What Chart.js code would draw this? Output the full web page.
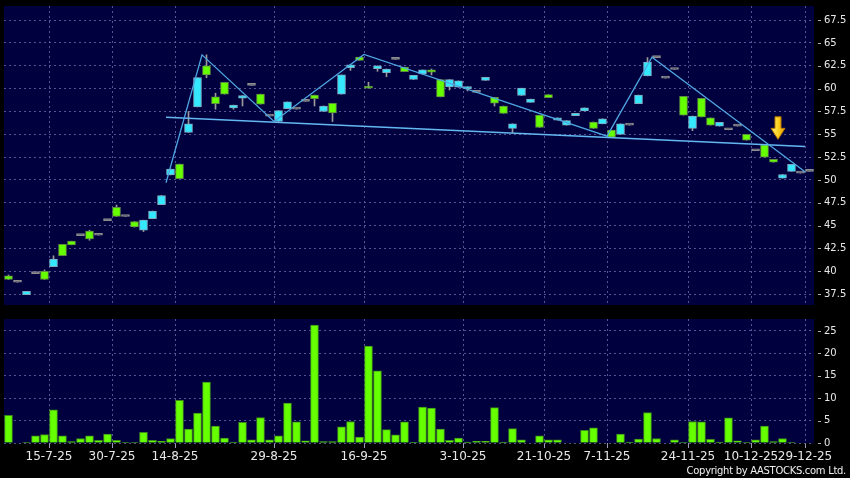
<!DOCTYPE html>
<html><head><meta charset="utf-8">
<script src="https://cdn.jsdelivr.net/npm/chart.js@4.4.1/dist/chart.umd.min.js"></script>
<style>
html,body{margin:0;padding:0;background:#000;}
#wrap{position:relative;width:850px;height:478px;background:#000;overflow:hidden;}
canvas{position:absolute;left:0;}
#c1{top:0;} #c2{top:310px;}
</style></head><body>
<div id="wrap"><canvas id="c1" width="850" height="310"></canvas><canvas id="c2" width="850" height="168"></canvas></div>
<script>
// ---- data ----
const opens  = [39.5,38.8,37.45,39.75,40.0,40.5,42.95,43.3,43.9,44.4,43.95,45.55,47.0,46.0,45.45,44.5,45.75,47.3,50.55,51.75,
  55.2,58.0,62.5,59.1,60.7,57.9,58.95,60.35,59.4,57.0,56.4,57.8,57.75,58.6,59.3,57.5,58.4,59.4,62.3,63.45,
  60.25,62.2,61.75,63.2,62.35,61.0,61.6,62.05,61.0,60.2,60.15,60.0,59.6,60.9,59.05,58.1,55.65,59.25,58.5,57.1,
  59.35,56.55,56.0,57.05,57.55,56.35,56.15,55.45,55.0,56.0,58.35,61.4,63.4,61.15,62.1,59.15,55.65,58.95,56.8,55.9,
  55.5,55.9,55.0,53.2,53.85,52.25,50.2,50.95,50.75,50.95];
const closes = [39.1,38.8,37.8,39.75,39.1,41.35,41.7,42.9,43.9,43.55,43.95,45.55,46.0,46.0,44.85,45.6,46.6,48.3,51.2,50.15,
  56.15,61.2,61.5,58.35,59.4,58.2,59.25,60.35,58.3,57.0,57.6,58.55,57.75,58.6,58.9,58.1,57.35,61.5,62.6,63.1,
  60.05,62.5,62.15,63.2,61.85,61.45,62.05,61.8,59.1,61.0,60.85,60.2,59.6,61.25,58.4,57.3,56.15,60.05,58.85,55.75,
  59.0,56.8,56.5,57.3,57.9,55.65,56.7,54.7,56.15,56.0,59.3,62.9,63.4,61.15,62.1,57.1,57.0,56.9,56.0,56.3,
  55.5,55.9,54.35,53.2,52.5,51.95,50.6,51.7,50.75,50.95];
const highs  = [39.6,38.8,37.8,39.75,40.15,41.7,42.95,43.3,43.9,44.5,43.95,45.55,47.25,46.0,45.45,45.6,46.6,48.3,51.2,51.75,
  57.5,61.2,63.7,59.5,60.7,58.2,59.25,60.35,59.4,57.0,57.6,58.55,57.75,58.6,59.3,58.1,58.4,61.5,62.6,63.45,
  60.7,62.5,62.15,63.2,62.35,61.45,62.05,62.15,61.0,61.0,60.85,60.2,59.6,61.25,59.05,58.1,56.15,60.05,58.85,57.1,
  59.35,56.8,56.5,57.3,57.9,56.35,56.7,55.45,56.15,56.0,59.3,63.4,63.4,61.15,62.1,59.15,57.0,58.95,56.8,56.3,
  55.5,55.9,55.0,53.2,53.85,52.25,50.6,51.7,50.75,50.95];
const lows   = [39.1,38.8,37.45,39.75,39.1,40.5,41.7,42.9,43.9,43.4,43.95,45.55,46.0,46.0,44.85,44.35,45.75,47.3,50.55,50.15,
  55.2,58.0,61.2,57.75,59.4,57.75,58.1,60.35,58.3,57.0,56.4,57.8,57.75,58.6,58.1,57.5,56.4,59.4,62.0,63.1,
  60.05,61.9,61.3,63.2,61.85,61.0,61.6,61.5,59.1,59.85,60.15,59.75,59.6,60.9,58.1,57.3,55.2,59.25,58.5,55.75,
  59.0,56.55,56.0,57.05,57.55,55.65,56.15,54.7,55.0,56.0,58.35,61.4,63.4,61.15,62.1,57.1,55.4,56.9,56.0,55.9,
  55.5,55.9,54.35,53.2,52.5,51.95,50.2,50.95,50.75,50.95];
const volumes = [6.2,0,0.1,1.6,1.9,7.4,1.6,0.3,1.0,1.6,0.6,2.0,0.6,0.1,0.1,2.4,0.6,0.4,1.0,9.5,
  3.1,6.7,13.6,3.8,1.1,0.2,4.6,0.7,5.7,0.7,1.6,8.9,4.7,0.5,26.3,0.3,0.3,3.6,4.8,1.3,
  21.6,16.1,3.0,1.8,4.7,0.05,8.0,7.8,3.1,0.6,1.1,0.2,0.4,0.4,7.9,0.2,3.2,0.7,0,1.6,
  0.7,0.7,0,0,2.8,3.4,0,0,2.0,0.2,0.9,6.8,1.0,0,0.7,0.1,4.8,4.7,0.8,0.2,
  5.6,0.5,0.1,0.7,3.8,0.3,1.0,0.1,0,0];
const tickIndex  = [5,12,19,30,40,51,60,67,76,83,89];
const tickLabels = ['15-7-25','30-7-25','14-8-25','29-8-25','16-9-25','3-10-25','21-10-25','7-11-25','24-11-25','10-12-25','29-12-25'];
const priceTicks  = [37.5,40,42.5,45,47.5,50,52.5,55,57.5,60,62.5,65,67.5];
const volumeTicks = [0,5,10,15,20,25];
const trendX = [17.5,21.5,29.5,39.5,66.5,71.5,88.5];
const trendY = [49.7,63.7,56.4,63.75,54.8,63.45,50.9];
const neckX = [17.5,88.5];
const neckY = [56.87,53.67];
const arrowX = 85.5, arrowY = 54.45;
const copyright = 'Copyright by AASTOCKS.com Ltd.';

// ---- styling ----
const NAVY = '#00003e';
const GRID = 'rgba(105,105,170,0.8)';
const TXT = '#e8e8e8';
const FONT = 'DejaVu Sans';
const UP = '#33e8ff', UPB = '#7fa8bc';
const DN = '#66ff00', DNB = '#5f8c40';
const FLAT = '#8e8e8e';

const bgPlugin = {id:'bg', beforeDraw(chart){
  const {ctx, chartArea:a} = chart;
  ctx.save(); ctx.fillStyle = '#000'; ctx.fillRect(0,0,chart.width,chart.height);
  ctx.fillStyle = NAVY; ctx.fillRect(a.left,a.top,a.right-a.left,a.bottom-a.top); ctx.restore();
}};
const yDashPlugin = {id:'ydash', afterDraw(chart){
  const s = chart.scales.y, ctx = chart.ctx;
  ctx.save(); ctx.strokeStyle = '#b0b0b0'; ctx.lineWidth = 1;
  s.ticks.forEach(t => { const yy = Math.round(s.getPixelForValue(t.value)) + 0.5;
    ctx.beginPath(); ctx.moveTo(s.left+4, yy); ctx.lineTo(s.left+7, yy); ctx.stroke(); });
  ctx.restore();
}};
const arrowPlugin = {id:'arrow', afterDatasetsDraw(chart){
  const {ctx, scales:{x,y}} = chart;
  const px = x.getPixelForValue(arrowX), py = y.getPixelForValue(arrowY);
  ctx.save(); ctx.beginPath();
  ctx.moveTo(px-3, py-22.5); ctx.lineTo(px+3, py-22.5); ctx.lineTo(px+3, py-11);
  ctx.lineTo(px+7, py-11); ctx.lineTo(px, py); ctx.lineTo(px-7, py-11); ctx.lineTo(px-3, py-11); ctx.closePath();
  const g = ctx.createLinearGradient(px-7,0,px+7,0);
  g.addColorStop(0,'#fff38a'); g.addColorStop(0.5,'#ffd21e'); g.addColorStop(1,'#e39a00');
  ctx.fillStyle = g; ctx.fill(); ctx.strokeStyle = '#b97a00'; ctx.lineWidth = 1; ctx.stroke(); ctx.restore();
}};
const copyPlugin = {id:'copy', afterDraw(chart){
  const ctx = chart.ctx; ctx.save(); ctx.font = '10px "'+FONT+'"'; ctx.fillStyle = '#f0f0f0';
  if ('letterSpacing' in ctx) ctx.letterSpacing = '-0.3px';
  ctx.textAlign = 'right'; ctx.textBaseline = 'middle'; ctx.fillText(copyright, 846, chart.height-6.5); ctx.restore();
}};

const idx = opens.map((_,i)=>i);
const bodyColor = idx.map(i => closes[i]>opens[i] ? UP : closes[i]<opens[i] ? DN : FLAT);
const bodyBorder = idx.map(i => closes[i]>opens[i] ? UPB : closes[i]<opens[i] ? DNB : FLAT);

function xScale(showLabels){
  return {type:'linear', min:-0.5, max:89.5, offset:false, bounds:'data',
    afterBuildTicks: s => { s.ticks = tickIndex.map(i => ({value: i - 0.5})); },
    afterFit: s => { s.height = showLabels ? 35 : 0; s.paddingLeft = 0; s.paddingRight = 0; },
    grid:{color:GRID, offset:false, drawTicks:showLabels, tickLength:5, tickColor:'#9a9ab8', lineWidth:1},
    border:{display:false, dash:[2,3]},
    ticks: showLabels ? {display:true, autoSkip:false, maxRotation:0, minRotation:0, color:TXT,
      font:{family:FONT, size:12}, padding:2, callback:(v,i)=>tickLabels[i]} : {display:false}};
}
function yScale(min, max, list){
  return {position:'right', min, max, beginAtZero:false,
    afterBuildTicks: s => { s.ticks = list.map(v => ({value:v})); },
    afterFit: s => { s.width = 36; s.paddingTop = 0; s.paddingBottom = 0; },
    grid:{color:GRID, drawTicks:false, lineWidth:1}, border:{display:false, dash:[2,3]},
    ticks:{color:TXT, font:{family:FONT, size:10}, padding:10, callback:v=>String(v)}};
}

new Chart(document.getElementById('c1'), {
  type:'bar',
  data:{datasets:[
    {type:'line', data: trendX.map((x,i)=>({x, y:trendY[i]})), borderColor:'#4ea6e2', borderWidth:1.3,
     pointRadius:0, tension:0, fill:false, order:0},
    {type:'line', data: neckX.map((x,i)=>({x, y:neckY[i]})), borderColor:'#64b8f2', borderWidth:1.6,
     pointRadius:0, tension:0, fill:false, order:0},
    {data: idx.map(i=>({x:i, y:[Math.min(opens[i],closes[i]), Math.max(opens[i],closes[i])]})),
     backgroundColor: bodyColor, borderColor: bodyBorder, borderWidth:1, borderSkipped:false,
     barThickness:8, minBarLength:2, grouped:false, order:1},
    {data: idx.map(i=>({x:i, y:[lows[i], highs[i]]})), backgroundColor:'#9a9a9a', borderWidth:0,
     barThickness:1, grouped:false, order:2}
  ]},
  options:{responsive:false, animation:false, devicePixelRatio:1,
    layout:{padding:{left:4, top:6, right:0, bottom:5}},
    plugins:{legend:{display:false}, tooltip:{enabled:false}},
    scales:{x:xScale(false), y:yScale(36.31, 69.05, priceTicks)}},
  plugins:[bgPlugin, yDashPlugin, arrowPlugin]
});

new Chart(document.getElementById('c2'), {
  type:'bar',
  data:{datasets:[
    {data: idx.map(i=>({x:i, y:volumes[i]})), backgroundColor:'#66ff00', borderColor:'#3f8a1c',
     borderWidth:1, barThickness:8, grouped:false}
  ]},
  options:{responsive:false, animation:false, devicePixelRatio:1,
    layout:{padding:{left:4, top:9, right:0, bottom:0}},
    plugins:{legend:{display:false}, tooltip:{enabled:false}},
    scales:{x:xScale(true), y:yScale(0, 27.67, volumeTicks)}},
  plugins:[bgPlugin, yDashPlugin, copyPlugin]
});
</script></body></html>
